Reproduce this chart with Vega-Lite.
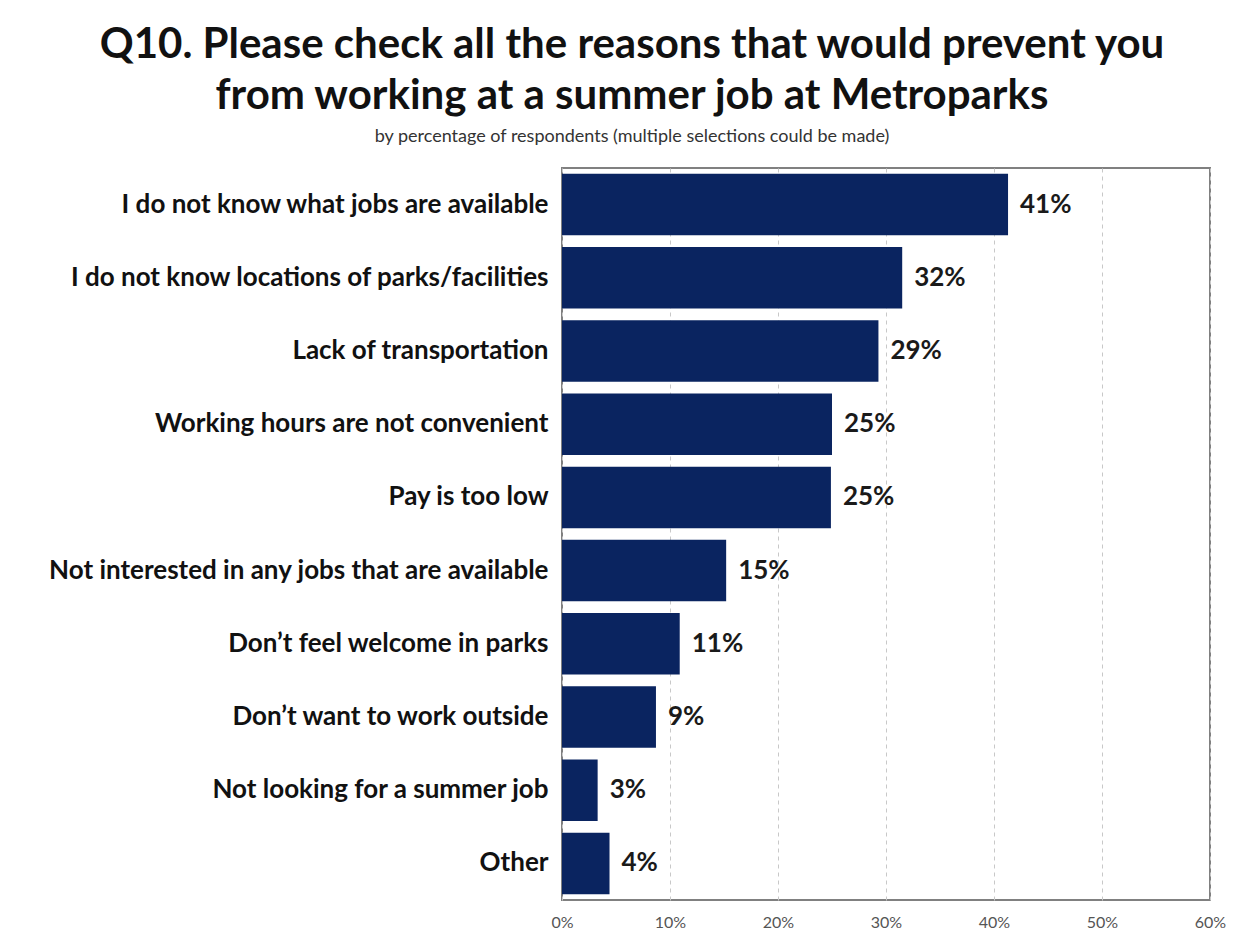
{
  "$schema": "https://vega.github.io/schema/vega-lite/v6.json",
  "autosize": {"type": "none"},
  "padding": {"left": 562, "top": 168, "right": 47, "bottom": 35},
  "width": 648,
  "height": 732,
  "background": "white",
  "title": {
    "text": ["Q10. Please check all the reasons that would prevent you", "from working at a summer job at Metroparks"],
    "subtitle": "by percentage of respondents (multiple selections could be made)",
    "anchor": "middle",
    "dx": -254,
    "offset": 21,
    "font": "Lato",
    "fontSize": 42,
    "fontWeight": "bold",
    "color": "#111111",
    "lineHeight": 51,
    "subtitleFont": "Lato",
    "subtitleFontSize": 18,
    "subtitleColor": "#333333",
    "subtitlePadding": 10
  },
  "data": {
    "values": [
      {"reason": "I do not know what jobs are available", "pct": 0.413},
      {"reason": "I do not know locations of parks/facilities", "pct": 0.315},
      {"reason": "Lack of transportation", "pct": 0.293},
      {"reason": "Working hours are not convenient", "pct": 0.25},
      {"reason": "Pay is too low", "pct": 0.249},
      {"reason": "Not interested in any jobs that are available", "pct": 0.152},
      {"reason": "Don’t feel welcome in parks", "pct": 0.109},
      {"reason": "Don’t want to work outside", "pct": 0.087},
      {"reason": "Not looking for a summer job", "pct": 0.033},
      {"reason": "Other", "pct": 0.044}
    ]
  },
  "encoding": {
    "y": {
      "field": "reason",
      "type": "nominal",
      "sort": null,
      "scale": {"paddingInner": 0.16, "paddingOuter": 0.08},
      "axis": {
        "title": null,
        "ticks": false,
        "domain": false,
        "labelPadding": 14,
        "labelFont": "Lato",
        "labelFontSize": 26,
        "labelFontWeight": "bold",
        "labelColor": "#111111",
        "labelLimit": 600
      }
    },
    "x": {
      "field": "pct",
      "type": "quantitative",
      "scale": {"domain": [0, 0.6], "nice": false},
      "axis": {
        "title": null,
        "format": ".0%",
        "values": [0, 0.1, 0.2, 0.3, 0.4, 0.5, 0.6],
        "ticks": false,
        "domain": false,
        "labelFlush": false,
        "labelPadding": 14,
        "labelFont": "Lato",
        "labelFontSize": 16,
        "labelColor": "#555555",
        "grid": true,
        "gridColor": "#c8c8c8",
        "gridDash": [4, 4],
        "gridWidth": 1
      }
    }
  },
  "layer": [
    {
      "mark": {"type": "bar", "color": "#0a2460"}
    },
    {
      "mark": {"type": "text", "align": "left", "baseline": "middle", "dx": 12, "font": "Lato", "fontSize": 26, "fontWeight": "bold", "color": "#1a1a1a"},
      "encoding": {
        "text": {"field": "pct", "type": "quantitative", "format": ".0%"}
      }
    }
  ],
  "config": {
    "view": {"stroke": "#808080", "strokeWidth": 2}
  }
}
